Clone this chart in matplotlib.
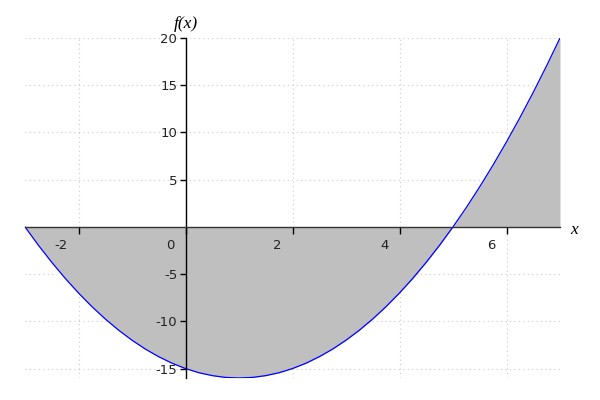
import numpy as np
import matplotlib
matplotlib.use("Agg")
import matplotlib.pyplot as plt
from matplotlib.transforms import ScaledTranslation

# Curve samples: f(x) from x=-3 to x=7
x_vals = [-3.0, -2.75, -2.5, -2.25, -2.0, -1.75, -1.5, -1.25, -1.0, -0.75, -0.5, -0.25,
          0.0, 0.25, 0.5, 0.75, 1.0, 1.25, 1.5, 1.75, 2.0, 2.25, 2.5, 2.75, 3.0, 3.25,
          3.5, 3.75, 4.0, 4.25, 4.5, 4.75, 5.0, 5.25, 5.5, 5.75, 6.0, 6.25, 6.5, 6.75, 7.0]
y_vals = [0.0, -1.94, -3.75, -5.44, -7.0, -8.44, -9.75, -10.94, -12.0, -12.94, -13.75, -14.44,
          -15.0, -15.44, -15.75, -15.94, -16.0, -15.94, -15.75, -15.44, -15.0, -14.44, -13.75,
          -12.94, -12.0, -10.94, -9.75, -8.44, -7.0, -5.44, -3.75, -1.94, 0.0, 2.06, 4.25,
          6.56, 9.0, 11.56, 14.25, 17.06, 20.0]

x_ticks = [-2, 0, 2, 4, 6]
x_ticklabels = ["-2", "0", "2", "4", "6"]
y_ticks = [-15, -10, -5, 5, 10, 15, 20]
y_ticklabels = ["-15", "-10", "-5", "5", "10", "15", "20"]
x_grid = [-2, 2, 4, 6]
y_grid = [-15, -10, -5, 5, 10, 15, 20]

fig = plt.figure(figsize=(6, 4), dpi=100)
ax = fig.add_axes([25 / 600, 22 / 400, 535 / 600, 340 / 400])

x = np.array(x_vals)
y = np.array(y_vals)

grid_kw = dict(color="#cccccc", linestyle=(0, (1, 3)), linewidth=0.8, zorder=0)
for gx in x_grid:
    ax.axvline(gx, **grid_kw)
for gy in y_grid:
    ax.axhline(gy, **grid_kw)

ax.fill_between(x, y, 0, color="#bfbfbf", linewidth=0, zorder=1)
ax.plot(x, y, color="blue", linewidth=0.9, zorder=3)

ax.set_xlim(-3, 7)
ax.set_ylim(-16, 20)

for s in ["top", "right"]:
    ax.spines[s].set_visible(False)
ax.spines["left"].set_position(("data", 0))
ax.spines["bottom"].set_position(("data", 0))
ax.spines["left"].set_color("black")
ax.spines["bottom"].set_color("#333333")
ax.spines["left"].set_linewidth(1.0)
ax.spines["bottom"].set_linewidth(1.0)
ax.spines["left"].set_zorder(4)
ax.spines["bottom"].set_zorder(4)

ax.set_xticks(x_ticks)
ax.set_xticklabels(x_ticklabels)
ax.set_yticks(y_ticks)
ax.set_yticklabels(y_ticklabels)
ax.tick_params(axis="x", direction="out", length=5, width=1, labelsize=9.5,
               colors="black", labelcolor="#222222", pad=4)
ax.tick_params(axis="y", direction="out", length=4.5, width=1, labelsize=9.5,
               colors="black", labelcolor="#222222", pad=1.5)
for t in ax.get_xticklabels():
    t.set_horizontalalignment("right")

offset = ScaledTranslation(-8 / 72, 0, fig.dpi_scale_trans)
for t in ax.get_xticklabels():
    t.set_transform(t.get_transform() + offset)

ax.text(7.2, -0.35, "x", fontsize=12.5, fontstyle="italic", family="Liberation Serif",
        ha="left", va="center")
ax.text(0, 20.6, "f(x)", fontsize=12.5, fontstyle="italic", family="Liberation Serif",
        ha="center", va="bottom")

fig.savefig("out.png", dpi=100)
